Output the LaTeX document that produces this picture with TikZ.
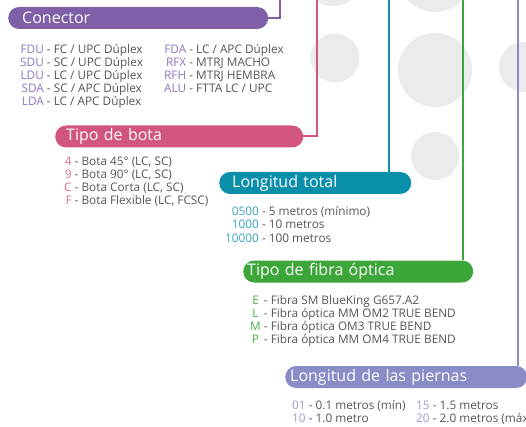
\documentclass[tikz,border=0pt]{standalone}
\usepackage{fontspec}
\setmainfont{Open Sans}
\usepackage{array}
\usepackage{xcolor}
\usepackage{tikz}

\definecolor{conPurple}{HTML}{7F5FA8}
\definecolor{conPurpleL}{HTML}{9275BE}
\definecolor{botaPink}{HTML}{D25580}
\definecolor{botaPinkL}{HTML}{DE6A93}
\definecolor{totTeal}{HTML}{0A8FAA}
\definecolor{totTealL}{HTML}{3BA3BE}
\definecolor{fibGreen}{HTML}{3DA639}
\definecolor{fibGreenL}{HTML}{4DB04A}
\definecolor{pieLav}{HTML}{8A8CC8}
\definecolor{pieLavL}{HTML}{9A9DD3}
\definecolor{dotGray}{HTML}{EBEBEB}
\definecolor{txtGray}{HTML}{555555}

\tikzset{
  titlebox/.style={anchor=west, rounded corners=11, minimum height=22, inner ysep=0,
    align=left, text=white, font=\fontsize{16}{18}\selectfont},
  codelist/.style={anchor=base west, inner sep=0, text=txtGray},
  wire/.style={line width=2}
}

\begin{document}
\begin{tikzpicture}[x=1pt, y=-1pt, font=\fontsize{11.8}{13}\selectfont]
  \useasboundingbox (0,0) rectangle (526,427);
  % background dots
  \fill[dotGray] (333,-24) circle (30);
  \fill[dotGray] (435,-25) circle (37);
  \fill[dotGray] (335,58) circle (24.5);
  \fill[dotGray] (435,70) circle (37);
  \fill[dotGray] (524,67) circle (25);
  \fill[dotGray] (435,156) circle (24);

  \node[titlebox, fill=conPurple, text width=232, inner xsep=14] (conector) at (8,18) {Conector};
  \node[titlebox, fill=botaPink, text width=226, inner xsep=11] (bota) at (55,136.5) {Tipo de bota};
  \node[titlebox, fill=totTeal, text width=166, inner xsep=13] (total) at (219,183) {Longitud total};
  \node[titlebox, fill=fibGreen, text width=222, inner xsep=4] (fibra) at (243,271.5) {Tipo de fibra óptica};
  \node[titlebox, fill=pieLav, text width=232, inner xsep=5] (piernas) at (285,377) {Longitud de las piernas};

  \coordinate (topC) at (280,-2);
  \coordinate (topB) at (317,-2);
  \coordinate (topT) at (389,-2);
  \coordinate (topF) at (463,-2);
  \coordinate (topP) at (518,-2);
  \draw[wire, conPurple] (conector.east) -| (topC);
  \draw[wire, botaPink] (bota.east) -| (topB);
  \draw[wire, totTeal] (topT) -- (topT |- total.north);
  \draw[wire, fibGreen] (topF) -- (topF |- fibra.north);
  \draw[wire, pieLav] (topP) -- (topP |- piernas.north);

  \node[codelist] (conA) at (20,54) {\begin{tabular}[t]{@{}>{\color{conPurpleL}}r@{ - }l@{}}
    FDU & FC / UPC Dúplex\\ SDU & SC / UPC Dúplex\\ LDU & LC / UPC Dúplex\\
    SDA & SC / APC Dúplex\\ LDA & LC / APC Dúplex\end{tabular}};
  \node[codelist] (conB) at (164,54) {\begin{tabular}[t]{@{}>{\color{conPurpleL}}r@{ - }l@{}}
    FDA & LC / APC Dúplex\\ RFX & MTRJ MACHO\\ RFH & MTRJ HEMBRA\\ ALU & FTTA LC / UPC\end{tabular}};
  \node[codelist] (botaL) at (64,166) {\begin{tabular}[t]{@{}>{\color{botaPinkL}}r@{ - }l@{}}
    4 & Bota 45° (LC, SC)\\ 9 & Bota 90° (LC, SC)\\ C & Bota Corta (LC, SC)\\
    F & Bota Flexible (LC, FCSC)\end{tabular}};
  \node[codelist] (totL) at (225,216) {\begin{tabular}[t]{@{}>{\color{totTealL}}r@{ - }l@{}}
    0500 & 5 metros (mínimo)\\ 1000 & 10 metros\\ 10000 & 100 metros\end{tabular}};
  \node[codelist] (fibL) at (250,304) {\begin{tabular}[t]{@{}>{\color{fibGreenL}}c@{ - }l@{}}
    E & Fibra SM BlueKing G657.A2\\ L & Fibra óptica MM OM2 TRUE BEND\\
    M & Fibra óptica OM3 TRUE BEND\\ P & Fibra óptica MM OM4 TRUE BEND\end{tabular}};
  \node[codelist] (pieA) at (292,409.5) {\begin{tabular}[t]{@{}>{\color{pieLavL}}r@{ - }l@{}}
    01 & 0.1 metros (mín)\\ 10 & 1.0 metro\end{tabular}};
  \node[codelist] (pieB) at (416,409.5) {\begin{tabular}[t]{@{}>{\color{pieLavL}}r@{ - }l@{}}
    15 & 1.5 metros\\ 20 & 2.0 metros (máx)\end{tabular}};
\end{tikzpicture}
\end{document}
